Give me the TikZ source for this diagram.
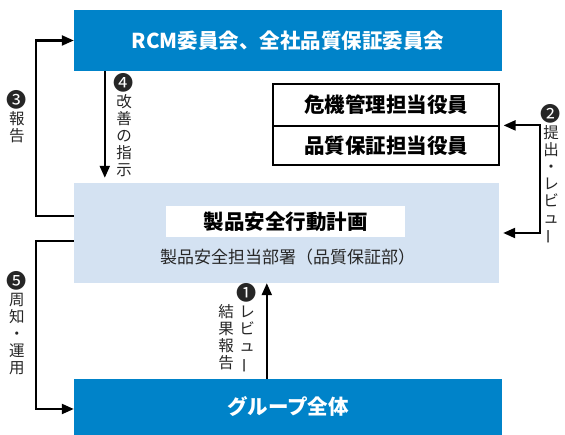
\documentclass[tikz,border=0pt]{standalone}
\usepackage{fontspec}
\usepackage{graphicx}
\setmainfont{Noto Sans CJK JP}
\usetikzlibrary{arrows.meta}
\definecolor{topblue}{HTML}{0083C9}
\definecolor{paleblue}{HTML}{D4E2F2}
\definecolor{labelgray}{HTML}{262626}
\newcommand{\vbarchar}{\rotatebox[origin=c]{90}{ー}}
\newcommand{\cnum}[1]{\scalebox{1.3}{#1}}
\begin{document}
\begin{tikzpicture}[x=1pt,y=1pt,
  bluebox/.style={fill=topblue, text=white, font=\fontsize{20.5}{24}\selectfont\bfseries, minimum width=428pt, inner sep=0pt},
  whitebox/.style={draw=black, line width=1.2pt, fill=white, font=\fontsize{20.5}{24}\selectfont\bfseries, minimum width=226pt, inner sep=0pt},
  arr/.style={line width=2.2pt, -{Triangle[length=12pt,width=10pt]}},
  dblarr/.style={line width=2.2pt, {Triangle[length=12pt,width=10pt]}-{Triangle[length=12pt,width=10pt]}},
  vlabel/.style={align=center, font=\fontsize{15.5}{17}\selectfont, inner sep=0pt, text=labelgray}
]
\useasboundingbox (0,0) rectangle (565,435);
% boxes
\node[bluebox, minimum height=61pt] (top) at (288,394.5) {RCM委員会、全社品質保証委員会};
\node[fill=paleblue, minimum width=425pt, minimum height=100pt, inner sep=0pt] (mid) at (286.5,202) {};
\node[fill=white, minimum width=239pt, minimum height=31pt, inner sep=0pt, font=\fontsize{20.5}{24}\selectfont\bfseries] (plan) at (285.5,213.5) {製品安全行動計画};
\node[font=\fontsize{17}{20}\selectfont, text=labelgray, inner sep=0pt] (dept) at (287.5,178) {製品安全担当部署（品質保証部）};
\node[bluebox, minimum height=56pt] (group) at (288,28) {グループ全体};
\node[whitebox, minimum height=42pt] (r1) at (386,330) {危機管理担当役員};
\node[whitebox, minimum height=39pt] (r2) at (386,289.5) {品質保証担当役員};
% connectors
\draw[arr] ([yshift=17pt]mid.west) -- ++(-38pt,0) |- (top.west);
\draw[arr] ([yshift=-8pt]mid.west) -- ++(-38pt,0) |- ([yshift=-2pt]group.west);
\draw[arr] ([xshift=31pt]top.south west) -- ([xshift=31pt,yshift=5pt]mid.north west);
\draw[arr] ([xshift=193pt]group.north west) -- ([xshift=193pt]mid.south west);
\draw[dblarr, shorten <=4pt, shorten >=4pt] (r2.north east) -- ++(40pt,0) |- (mid.east);
% labels
\node[vlabel] (l3) at (17,318) {\cnum{❸}\\報\\告};
\node[vlabel] (l4) at (124,309.5) {\cnum{❹}\\改\\善\\の\\指\\示};
\node[vlabel] (l2) at (551,260.5) {\cnum{❷}\\提\\出\\・\\レ\\ビ\\ュ\\\vbarchar};
\node[vlabel] (l5) at (17,111.5) {\cnum{❺}\\周\\知\\・\\運\\用};
\node[vlabel] (l1a) at (247,106.5) {\cnum{❶}\\レ\\ビ\\ュ\\\vbarchar};
\node[vlabel] (l1b) at (226,98) {結\\果\\報\\告};
\end{tikzpicture}
\end{document}
